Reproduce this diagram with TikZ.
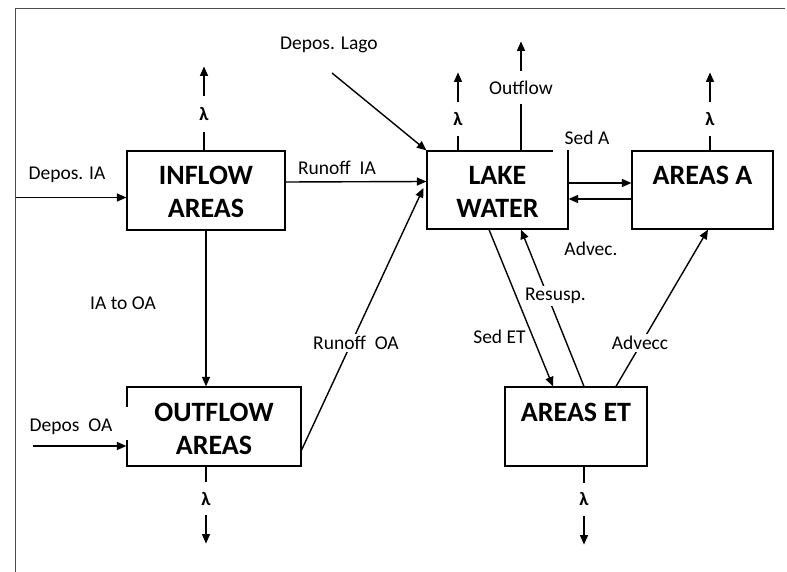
\documentclass[tikz,border=0pt]{standalone}
\usepackage{fontspec}
\setmainfont{Carlito}
\usetikzlibrary{arrows.meta}
\begin{document}
\begin{tikzpicture}[x=1pt,y=-1pt,
  box/.style={draw, line width=1.2pt, rectangle, inner sep=0pt},
  boxtxt/.style={anchor=base, inner sep=0pt, font=\fontsize{28}{33}\selectfont\bfseries},
  lbl/.style={inner sep=1pt, font=\fontsize{19.5}{22}\selectfont},
  wlbl/.style={lbl, fill=white, inner sep=2pt},
  lam/.style={fill=white, inner sep=1pt, minimum height=#1, font=\fontsize{19}{20}\selectfont\bfseries},
  lam/.default=33pt,
  arr/.style={line width=1.4pt, -{Triangle[length=9.5pt,width=8pt]}},
  ln/.style={line width=1.4pt}]
\useasboundingbox (0,0) rectangle (787,572);

% frame
\coordinate (fbl) at (15.5,572);
\coordinate (ftl) at (15.5,8.5);
\coordinate (ftr) at (785,8.5);
\draw[line width=1.8pt, black!70] (fbl) -- (ftl) -- (ftr);

% boxes
\node[box, minimum width=158pt, minimum height=79pt] (inflow) at (206,190.5) {};
\node[box, minimum width=174pt, minimum height=79pt] (outflow) at (214,426.5) {};
\node[box, minimum width=141pt, minimum height=78pt] (lake) at (497.5,190) {};
\node[box, minimum width=141pt, minimum height=78pt] (areasA) at (702.5,190) {};
\node[box, minimum width=142pt, minimum height=79pt] (areasET) at (576,426.5) {};

% gaps in box borders
\draw[white, line width=2pt] (553,151) -- (567.4,151);
\draw[white, line width=2pt] (127,407) -- (127,440);

% box texts
\node[boxtxt] (t1a) at (206,185) {INFLOW};
\node[boxtxt] (t1b) at (206,218) {AREAS};
\node[boxtxt] (t2a) at (214,421.5) {OUTFLOW};
\node[boxtxt] (t2b) at (214,454) {AREAS};
\node[boxtxt] (t3a) at (497.5,185) {LAKE};
\node[boxtxt] (t3b) at (497.5,218) {WATER};
\node[boxtxt] (t4a) at (702.5,185) {AREAS A};
\node[boxtxt] (t5a) at (576,421.5) {AREAS ET};

% inputs
\coordinate (dIA) at (15.5,197.5);
\draw[arr] (dIA) -- (dIA -| inflow.west);
\node[lbl] (ldIA) at (67,175) {Depos. IA};

\coordinate (dOA) at (33,446);
\draw[arr] (dOA) -- (dOA -| outflow.west);
\node[lbl] (ldOA) at (71,427) {Depos\ \ OA};

\coordinate (dLago) at (332,73);
\draw[arr] (dLago) -- (lake.north west);
\node[lbl] (ldLago) at (329,45) {Depos. Lago};

% runoff
\draw[arr] ([yshift=8.5pt]inflow.east) -- ([yshift=8.5pt]lake.west);
\node[lbl] (lrIA) at (337,168) {Runoff\ \ IA};

\draw[arr] ([yshift=-23.5pt]outflow.east) -- ([xshift=-3pt,yshift=2pt]lake.west);
\node[wlbl] (lrOA) at (356,343) {Runoff\ \ OA};

\draw[arr] (inflow.south) -- (outflow.north -| inflow.south);
\node[lbl] (liaoa) at (123,303) {IA to OA};

% lambdas
\draw[arr] ([xshift=-2pt]inflow.north) -- ++(0,-84) node[lam=36pt, pos=0.43] (lam1) {λ};
\draw[arr] ([xshift=-39.5pt]lake.north) -- ++(0,-78) node[lam=34pt, pos=0.40] (lam2) {λ};
\draw[arr] ([xshift=7.5pt]areasA.north) -- ++(0,-78) node[lam=34pt, pos=0.40] (lam3) {λ};
\draw[arr] ([xshift=-8pt]outflow.south) -- ++(0,77) node[lam=33pt, pos=0.42] (lam4) {λ};
\draw[arr] ([xshift=8pt]areasET.south) -- ++(0,78) node[lam=33pt, pos=0.42] (lam5) {λ};

% outflow
\draw[arr] ([xshift=23.5pt]lake.north) -- ++(0,-109)
  node[lbl, fill=white, minimum height=33pt, pos=0.573] (lout) {Outflow};

% lake <-> areas A
\draw[arr] ([yshift=7pt]lake.east) -- ([yshift=7pt]areasA.west);
\draw[arr] ([yshift=-9pt]areasA.west) -- ([yshift=-9pt]lake.east);
\node[lbl] (lsedA) at (587,138) {Sed A};
\node[lbl] (ladv) at (591,249) {Advec.};

% lake <-> areas ET
\draw[arr] ([xshift=-8.5pt]lake.south) -- ([xshift=-23pt]areasET.north);
\node[lbl] (lsedET) at (499.5,337) {Sed ET};
\draw[arr] ([xshift=8pt]areasET.north) -- ([xshift=23.5pt]lake.south);
\node[wlbl] (lres) at (555.5,296) {Resusp.};

% areas ET -> areas A
\draw[arr] ([xshift=40pt]areasET.north) -- ([xshift=5.5pt]areasA.south);
\node[wlbl] (ladvc) at (640,343) {Advecc};
\end{tikzpicture}
\end{document}
